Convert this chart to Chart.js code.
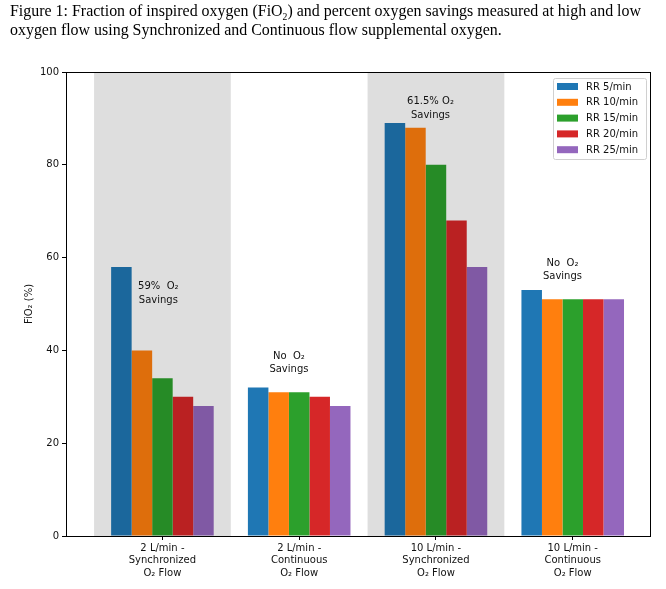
<!DOCTYPE html>
<html>
<head>
<meta charset="utf-8">
<script src="https://cdn.jsdelivr.net/npm/chart.js@4.4.1/dist/chart.umd.min.js"></script>
<style>
  body { margin: 0; background: #fff; }
  #wrap { position: relative; width: 666px; height: 589px; }
  #title { position: absolute; left: 10px; top: 2px; font-family: "Liberation Serif", serif; font-size: 16.5px;
    line-height: 18.5px; color: #000; white-space: nowrap; transform-origin: 0 0; }
  #title sub { font-size: 10px; line-height: 0; }
  canvas { position: absolute; left: 0; top: 0; }
</style>
</head>
<body>
<div id="wrap">
  <canvas id="c" width="666" height="589"></canvas>
  <div id="title"><span id="l1">Figure 1: Fraction of inspired oxygen (FiO<sub>2</sub>) and percent oxygen savings measured at high and low</span><br>oxygen flow using Synchronized and Continuous flow supplemental oxygen.</div>
</div>
<script>
const categories = [
  ['2 L/min -', 'Synchronized', 'O₂ Flow'],
  ['2 L/min -', 'Continuous', 'O₂ Flow'],
  ['10 L/min -', 'Synchronized', 'O₂ Flow'],
  ['10 L/min -', 'Continuous', 'O₂ Flow'],
];
const seriesNames = ['RR 5/min', 'RR 10/min', 'RR 15/min', 'RR 20/min', 'RR 25/min'];
const rr5  = [58, 32, 89, 53];
const rr10 = [40, 31, 88, 51];
const rr15 = [34, 31, 80, 51];
const rr20 = [30, 30, 68, 51];
const rr25 = [28, 28, 58, 51];
const yTicks = [0, 20, 40, 60, 80, 100];
const shadedGroups = [0, 2];
const notes = [
  { x: -0.03, y: 52.3, lines: ['59%  O₂', 'Savings'] },
  { x: 0.925, y: 37.3, lines: ['No  O₂', 'Savings'] },
  { x: 1.96, y: 92.2, lines: ['61.5% O₂', 'Savings'] },
  { x: 2.925, y: 57.3, lines: ['No  O₂', 'Savings'] },
];

const colors = ['#1f77b4', '#ff7f0e', '#2ca02c', '#d62728', '#9467bd'];
const FONT = '"DejaVu Sans", sans-serif';

// fit the caption's first line to the reference width
const t = document.getElementById('title');
const w = document.getElementById('l1').getBoundingClientRect().width;
t.style.transform = `scaleX(${631 / w})`;

const series = [rr5, rr10, rr15, rr20, rr25];
const datasets = series.map((vals, k) => ({
  label: seriesNames[k],
  data: vals.map((v, i) => ({ x: i, y: v })),
  backgroundColor: colors[k],
  borderWidth: 0,
  categoryPercentage: 0.75,
  barPercentage: 1.0,
}));

const overlay = {
  id: 'overlay',
  afterDatasetsDraw(chart) {
    const { ctx, chartArea: a, scales: { x } } = chart;
    ctx.save();
    ctx.fillStyle = 'rgba(0,0,0,0.13)';
    shadedGroups.forEach((g) => {
      const l = x.getPixelForValue(g - 0.5), r = x.getPixelForValue(g + 0.5);
      ctx.fillRect(l, a.top, r - l, a.bottom - a.top);
    });
    ctx.restore();
  },
  afterDraw(chart) {
    const { ctx, chartArea: a, scales: { x, y } } = chart;
    ctx.save();
    // frame
    ctx.strokeStyle = '#000';
    ctx.lineWidth = 1;
    ctx.strokeRect(Math.round(a.left) + 0.5, Math.round(a.top) + 0.5, Math.round(a.right - a.left), Math.round(a.bottom - a.top));
    // notes
    ctx.fillStyle = '#111';
    ctx.font = '10px ' + FONT;
    ctx.textAlign = 'center';
    ctx.textBaseline = 'middle';
    notes.forEach((n) => {
      const px = x.getPixelForValue(n.x), py = y.getPixelForValue(n.y);
      n.lines.forEach((s, i) => ctx.fillText(s, px, py + (i - (n.lines.length - 1) / 2) * 13.5));
    });
    // legend
    const bx = a.right - 97, by = a.top + 6, bw = 93, bh = 81;
    ctx.fillStyle = 'rgba(255,255,255,0.8)';
    ctx.strokeStyle = '#d0d0d0';
    ctx.beginPath();
    ctx.roundRect(bx + 0.5, by + 0.5, bw, bh, 2);
    ctx.fill();
    ctx.stroke();
    ctx.textAlign = 'left';
    chart.data.datasets.forEach((ds, i) => {
      const cy = by + 8.5 + i * 15.8;
      ctx.fillStyle = ds.backgroundColor;
      ctx.fillRect(bx + 4, cy - 3.5, 21, 7);
      ctx.fillStyle = '#111';
      ctx.fillText(ds.label, bx + 33, cy + 0.5);
    });
    ctx.restore();
  },
};

new Chart(document.getElementById('c'), {
  type: 'bar',
  data: { datasets },
  options: {
    responsive: false,
    devicePixelRatio: 1,
    animation: false,
    layout: { padding: { left: 0, right: 16, top: 72, bottom: 0 } },
    plugins: { legend: { display: false }, tooltip: { enabled: false } },
    scales: {
      x: {
        type: 'linear',
        min: -0.705,
        max: 3.565,
        offset: false,
        grid: { offset: false, drawOnChartArea: false, drawTicks: true, tickLength: 4, color: '#000' },
        border: { color: '#000' },
        afterBuildTicks: (s) => { s.ticks = categories.map((_, i) => ({ value: i })); },
        afterFit: (s) => { s.height = 53; },
        ticks: {
          autoSkip: false,
          maxRotation: 0,
          padding: 2,
          color: '#111',
          font: { family: FONT, size: 10, lineHeight: 1.25 },
          callback: (v) => categories[v],
        },
      },
      y: {
        min: 0,
        max: 100,
        grid: { drawOnChartArea: false, drawTicks: true, tickLength: 4, color: '#000' },
        border: { color: '#000' },
        afterBuildTicks: (s) => { s.ticks = yTicks.map((v) => ({ value: v })); },
        afterFit: (s) => { s.width = 66; },
        ticks: { padding: 3, color: '#111', font: { family: FONT, size: 10 } },
        title: { display: true, text: 'FiO₂ (%)', color: '#111', font: { family: FONT, size: 10 }, padding: { top: 23, bottom: 0 } },
      },
    },
  },
  plugins: [overlay],
});
</script>
</body>
</html>
